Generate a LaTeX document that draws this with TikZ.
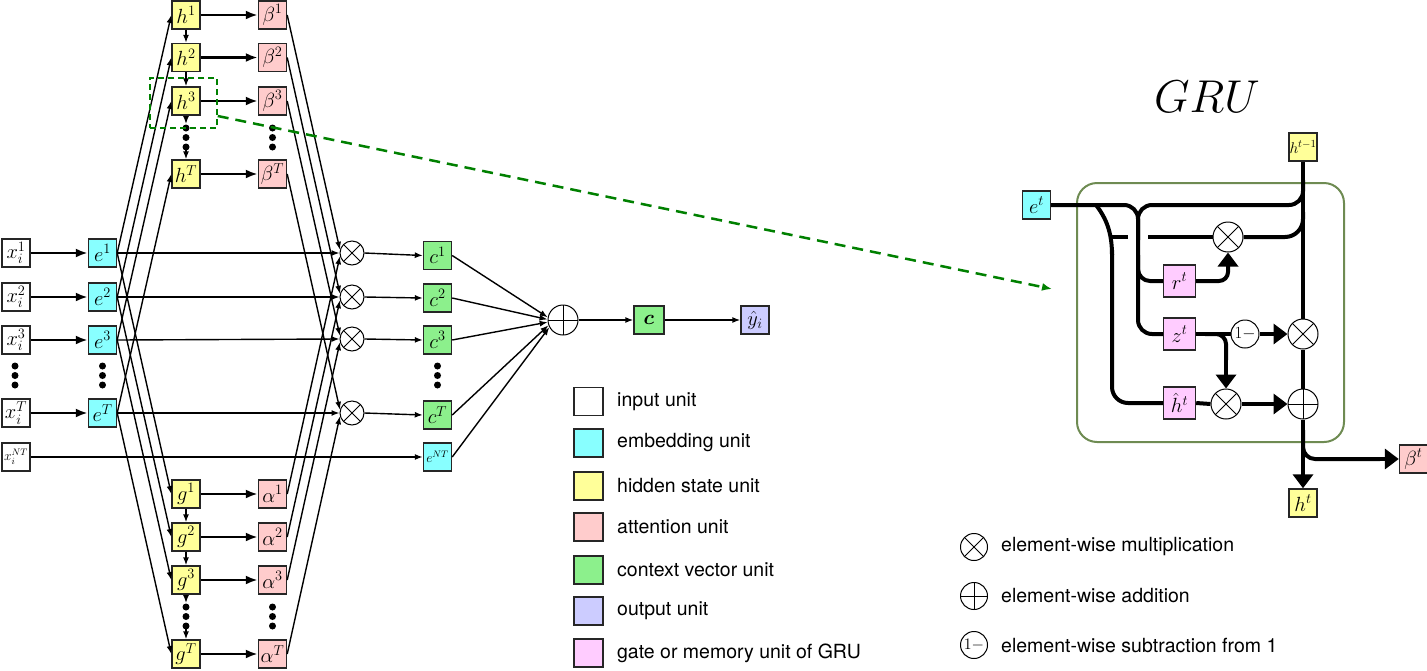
\RequirePackage{fix-cm}
\documentclass[tikz,border=0pt]{standalone}
\usepackage{amsmath}
\usepackage{bm}
\usepackage{fontspec}
\setsansfont{TeX Gyre Heros}
\usetikzlibrary{arrows.meta,calc}
\definecolor{yel}{HTML}{FFFF99}
\definecolor{att}{HTML}{FFCCCC}
\definecolor{emb}{HTML}{88FFFF}
\definecolor{ctx}{HTML}{8CF08C}
\definecolor{outc}{HTML}{CCCCFF}
\definecolor{gate}{HTML}{FFCCFF}
\definecolor{grub}{HTML}{6E8B52}
\definecolor{dgreen}{HTML}{008000}
\begin{document}
\begin{tikzpicture}[x=1pt,y=-1pt,
  box/.style={draw=black!85, line width=1.4pt, minimum width=28pt, minimum height=28pt, inner sep=0pt, font=\fontsize{20.5}{20.5}\selectfont},
  sbox/.style={box, font=\fontsize{13.5}{13.5}\selectfont},
  gbox/.style={box, fill=gate, minimum width=32pt, minimum height=32pt},
  thinarr/.style={line width=1.4pt, -{Latex[length=8pt,width=6pt]}},
  thickarr/.style={line width=2.6pt, -{Latex[length=12pt,width=9pt]}},
  mult/.style={circle, draw, line width=1pt, minimum size=24pt, inner sep=0pt,
    path picture={\draw[line width=1pt] (path picture bounding box.north west) -- (path picture bounding box.south east) (path picture bounding box.north east) -- (path picture bounding box.south west);}},
  plus/.style={circle, draw, line width=1pt, minimum size=24pt, inner sep=0pt,
    path picture={\draw[line width=1pt] (path picture bounding box.north) -- (path picture bounding box.south) (path picture bounding box.east) -- (path picture bounding box.west);}},
  onem/.style={circle, draw, line width=1pt, minimum size=28pt, inner sep=0pt, font=\fontsize{17}{17}\selectfont},
  wire/.style={line width=4pt},
  wirearr/.style={line width=4pt, -{Triangle[length=14pt,width=20pt]}},
  legsq/.style={draw=black!85, line width=1.2pt, minimum width=29pt, minimum height=28pt, inner sep=0pt},
  legtxt/.style={anchor=west, font=\sffamily\fontsize{19.5}{19.5}\selectfont, inner sep=0pt},
]
\useasboundingbox (0,0) rectangle (1427,670);

% ---------- input / embedding ----------
\node[box] (x1) at (16,253) {$x_i^1$};
\node[box] (x2) at (16,297) {$x_i^2$};
\node[box] (x3) at (16,340) {$x_i^3$};
\node[box] (xT) at (16,413) {$x_i^T$};
\node[sbox] (xNT) at (16,457) {$x_i^{NT}$};
\node[box,fill=emb] (e1) at (102.5,253) {$e^1$};
\node[box,fill=emb] (e2) at (102.5,297) {$e^2$};
\node[box,fill=emb] (e3) at (102.5,340) {$e^3$};
\node[box,fill=emb] (eT) at (102.5,413) {$e^T$};
\foreach \yy in {366,375.5,385} {\fill (15,\yy) circle (3.5pt); \fill (102.5,\yy) circle (3.5pt); \fill (437.5,\yy) circle (3.5pt);}

% ---------- hidden (top) ----------
\node[box,fill=yel] (h1) at (186,15) {$h^1$};
\node[box,fill=yel] (h2) at (186,57.5) {$h^2$};
\node[box,fill=yel] (h3) at (186,101) {$h^3$};
\node[box,fill=yel] (hT) at (186,174) {$h^T$};
\node[box,fill=att] (b1) at (272.5,15) {$\beta^1$};
\node[box,fill=att] (b2) at (272.5,57.5) {$\beta^2$};
\node[box,fill=att] (b3) at (272.5,101) {$\beta^3$};
\node[box,fill=att] (bT) at (272.5,174) {$\beta^T$};
\foreach \yy in {128,137.5,147} {\fill (186,\yy) circle (3.5pt); \fill (272.5,\yy) circle (3.5pt);}

% ---------- hidden (bottom) ----------
\node[box,fill=yel] (g1) at (186,494) {$g^1$};
\node[box,fill=yel] (g2) at (186,537) {$g^2$};
\node[box,fill=yel] (g3) at (186,580) {$g^3$};
\node[box,fill=yel] (gT) at (186,654) {$g^T$};
\node[box,fill=att] (a1) at (272.5,494) {$\alpha^1$};
\node[box,fill=att] (a2) at (272.5,537) {$\alpha^2$};
\node[box,fill=att] (a3) at (272.5,580) {$\alpha^3$};
\node[box,fill=att] (aT) at (272.5,654) {$\alpha^T$};
\foreach \yy in {607,616.5,626} {\fill (186,\yy) circle (3.5pt); \fill (272.5,\yy) circle (3.5pt);}

% ---------- products / context ----------
\node[mult] (m1) at (352,253) {};
\node[mult] (m2) at (352,297) {};
\node[mult] (m3) at (352,339) {};
\node[mult] (mT) at (352,413) {};
\node[box,fill=ctx] (c1) at (437.5,255.5) {$c^1$};
\node[box,fill=ctx] (c2) at (437.5,298) {$c^2$};
\node[box,fill=ctx] (c3) at (437.5,340) {$c^3$};
\node[box,fill=ctx] (cT) at (437.5,415) {$c^T$};
\node[sbox,fill=emb] (eNT) at (437.5,457) {$e^{NT}$};
\node[plus, minimum size=30pt] (sum) at (563,320) {};
\node[box,fill=ctx, minimum width=30pt] (C) at (649,320) {$\bm{c}$};
\node[box,fill=outc] (y) at (755,320) {$\hat{y}_i$};

% ---------- connectors left part ----------
\foreach \i in {1,2,3,T} {
  \draw[thickarr] (x\i.east) -- (e\i.west);
  \draw[thinarr] (e\i.east) -- (h\i.west);
  \draw[thinarr] (e\i.east) -- (g\i.west);
  \draw[thinarr] (e\i.east) -- (m\i.west);
  \draw[thickarr] (h\i.east) -- (b\i.west);
  \draw[thickarr] (g\i.east) -- (a\i.west);
  \draw[thinarr] (b\i.east) -- (m\i.165);
  \draw[thinarr] (a\i.east) -- (m\i.195);
  \draw[thinarr] (m\i.east) -- (c\i.west);
}
\draw[thinarr] (c1.east) -- (sum.170);
\draw[thinarr] (c2.east) -- (sum.178);
\draw[thinarr] (c3.east) -- (sum.188);
\draw[thinarr] (cT.east) -- (sum.200);
\draw[thinarr] (xNT.east) -- (eNT.west);
\draw[thinarr] (eNT.east) -- (sum.208);
\draw[thinarr] (h1.south) -- (h2.north);
\draw[thinarr] (h2.south) -- (h3.north);
\draw[thinarr] (h3.south) -- (186,124);
\draw[thinarr] (186,150) -- (hT.north);
\draw[thinarr] (g1.south) -- (g2.north);
\draw[thinarr] (g2.south) -- (g3.north);
\draw[thinarr] (g3.south) -- (186,603);
\draw[thinarr] (186,629) -- (gT.north);
\draw[thinarr] (sum.east) -- (C.west);
\draw[thinarr] (C.east) -- (y.west);

% ---------- zoom box ----------
\node[draw=dgreen, dash pattern=on 6pt off 4pt, line width=1.5pt, minimum width=67pt, minimum height=50pt, inner sep=0pt] (zoombox) at (183.5,103) {};
\coordinate (gruin) at (1052,289);
\draw[dgreen, line width=2.5pt, dash pattern=on 11pt off 7pt, -{Latex[length=10pt,width=8pt]}] ([yshift=-13pt]zoombox.east) -- (gruin);

% ---------- legend ----------
\node[legsq] (l1) at (588.5,401.5) {};
\node[legsq,fill=emb] (l2) at (588.5,443) {};
\node[legsq,fill=yel] (l3) at (588.5,486) {};
\node[legsq,fill=att] (l4) at (588.5,527) {};
\node[legsq,fill=ctx] (l5) at (588.5,570) {};
\node[legsq,fill=outc] (l6) at (588.5,611) {};
\node[legsq,fill=gate] (l7) at (588.5,653) {};
\node[legtxt] (t1) at (617,401.5) {input unit};
\node[legtxt] (t2) at (617,443) {embedding unit};
\node[legtxt] (t3) at (617,486) {hidden state unit};
\node[legtxt] (t4) at (617,527) {attention unit};
\node[legtxt] (t5) at (617,570) {context vector unit};
\node[legtxt] (t6) at (617,611) {output unit};
\node[legtxt] (t7) at (617,653) {gate or memory unit of GRU};

\node[mult, minimum size=27pt] (lm) at (974,547) {};
\node[plus, minimum size=27pt] (lp) at (974,596) {};
\node[onem, minimum size=27pt, font=\fontsize{16}{16}\selectfont] (lo) at (974,645) {$1-$};
\node[legtxt] (tm) at (1001,547) {element-wise multiplication};
\node[legtxt] (tp) at (1001,596) {element-wise addition};
\node[legtxt] (to) at (1001,645) {element-wise subtraction from 1};

% ---------- GRU ----------
\node[font=\fontsize{46}{46}\selectfont] (grut) at (1207,97) {$GRU$};
\draw[grub, line width=2pt, rounded corners=20pt] (1077,183) rectangle (1344,442);

\node[box,fill=yel,font=\fontsize{15.5}{15.5}\selectfont] (hprev) at (1303,147) {$h^{t-1}$};
\node[box,fill=emb] (et) at (1036.5,205) {$e^t$};
\node[mult, minimum size=30pt] (mr) at (1228,237) {};
\node[gbox] (rt) at (1179.5,281) {$r^t$};
\node[gbox] (zt) at (1179.5,334) {$z^t$};
\node[onem] (om) at (1245,334) {$1-$};
\node[mult, minimum size=30pt] (mz) at (1303,334) {};
\node[gbox] (hh) at (1179.5,403) {$\hat{h}^t$};
\node[mult, minimum size=30pt] (mh) at (1226,404) {};
\node[plus, minimum size=30pt] (pl) at (1303,404) {};
\node[box,fill=yel] (htn) at (1303,503) {$h^t$};
\node[box,fill=att] (bt) at (1413.5,459) {$\beta^t$};

\draw[wire, rounded corners=14pt] (et.east) -- (1138,205) -- (1138,334) -- (zt.west);
\draw[wire, rounded corners=14pt] (1303,180) -- (1303,205) -- (1138,205) -- (1138,240);
\draw[wire, rounded corners=12pt] (1138,255) -- (1138,281) -- (rt.west);
\draw[wire] (1096,205) .. controls (1106,218) and (1112,232) .. (1112,255);
\draw[wire, rounded corners=16pt] (1112,250) -- (1112,403) -- (hh.west);
\draw[wire] (1110,237) -- (1128,237);
\draw[wire] (1148,237) -- (mr.west);
\draw[wire, rounded corners=18pt] (mr.east) -- (1303,237) -- (1303,212);
\draw[wire, rounded corners=9pt] (rt.east) -- (1228,281) -- (1228,264);
\draw[wirearr] (1228,266) -- (mr.south);
\draw[wire] (zt.east) -- (om.west);
\draw[wirearr] (om.east) -- (mz.west);
\draw[wire, rounded corners=10pt] (1205,334) -- (1226,334) -- (1226,360);
\draw[wirearr] (1226,356) -- (mh.north);
\draw[wire] (hh.east) -- (mh.west);
\draw[wirearr] (mh.east) -- (pl.west);
\draw[wire] (hprev.south) -- (mz.north);
\draw[wire] (mz.south) -- (pl.north);
\draw[wirearr] (pl.south) -- (htn.north);
\draw[wire, rounded corners=12pt] (1303,430) -- (1303,459) -- (1380,459);
\draw[wirearr] (1376,459) -- (bt.west);
\end{tikzpicture}
\end{document}
